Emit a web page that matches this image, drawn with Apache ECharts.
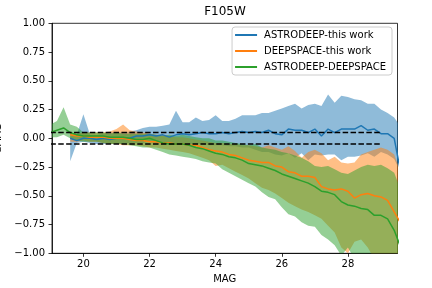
<!DOCTYPE html>
<html><head><meta charset="utf-8">
<script src="https://cdn.jsdelivr.net/npm/echarts@6/dist/echarts.min.js"></script>
<style>html,body{margin:0;padding:0;background:#fff}#c{width:432px;height:288px}</style>
</head><body><div id="c"></div>
<script>
// x grid (MAG bins)
const mags = [19.0, 19.2, 19.4, 19.6, 19.8, 20.0, 20.2, 20.4, 20.6, 20.8, 21.0, 21.2, 21.4, 21.6, 21.8, 22.0, 22.2, 22.4, 22.6, 22.8, 23.0, 23.2, 23.4, 23.6, 23.8, 24.0, 24.2, 24.4, 24.6, 24.8, 25.0, 25.2, 25.4, 25.6, 25.8, 26.0, 26.2, 26.4, 26.6, 26.8, 27.0, 27.2, 27.4, 27.6, 27.8, 28.0, 28.2, 28.4, 28.6, 28.8, 29.0, 29.2, 29.4, 29.6];

// ASTRODEEP-this work (starts at 19.6)
const blueMid = [null, null, null, 0.00, -0.02, 0.00, 0.00, -0.01, 0.00, -0.01, 0.00, 0.00, 0.00, 0.02, 0.02, 0.03, 0.02, 0.03, 0.01, 0.03, 0.04, 0.03, 0.04, 0.05, 0.04, 0.04, 0.05, 0.04, 0.05, 0.06, 0.05, 0.06, 0.05, 0.07, 0.04, 0.03, 0.08, 0.07, 0.07, 0.05, 0.08, 0.02, 0.08, 0.05, 0.08, 0.08, 0.08, 0.11, 0.07, 0.08, 0.04, 0.04, 0.00, -0.30];
const blueHi = [null, null, null, 0.02, 0.03, 0.21, 0.03, 0.03, 0.04, 0.05, 0.05, 0.05, 0.06, 0.07, 0.09, 0.10, 0.10, 0.11, 0.12, 0.24, 0.14, 0.14, 0.18, 0.15, 0.16, 0.20, 0.15, 0.15, 0.17, 0.20, 0.20, 0.20, 0.22, 0.22, 0.24, 0.26, 0.28, 0.30, 0.26, 0.29, 0.30, 0.28, 0.38, 0.31, 0.37, 0.36, 0.34, 0.33, 0.30, 0.30, 0.25, 0.22, 0.18, 0.10];
const blueLo = [null, null, null, -0.20, -0.04, -0.03, -0.04, -0.05, -0.05, -0.05, -0.05, -0.05, -0.04, -0.04, -0.04, -0.03, -0.04, -0.04, -0.05, -0.04, -0.04, -0.05, -0.05, -0.05, -0.06, -0.06, -0.06, -0.07, -0.07, -0.08, -0.08, -0.10, -0.12, -0.12, -0.14, -0.15, -0.13, -0.17, -0.13, -0.19, -0.14, -0.15, -0.14, -0.14, -0.19, -0.16, -0.16, -0.15, -0.13, -0.16, -0.12, -0.14, -0.18, -0.30];

// DEEPSPACE-this work (starts at 19.6)
const orangeMid = [null, null, null, 0.03, 0.02, 0.02, 0.01, 0.01, 0.01, 0.00, 0.00, 0.00, -0.01, -0.02, -0.02, -0.03, -0.03, -0.04, -0.04, -0.05, -0.05, -0.06, -0.06, -0.08, -0.10, -0.11, -0.12, -0.14, -0.15, -0.17, -0.19, -0.20, -0.21, -0.21, -0.24, -0.25, -0.29, -0.30, -0.33, -0.33, -0.34, -0.42, -0.44, -0.45, -0.44, -0.46, -0.52, -0.49, -0.48, -0.50, -0.51, -0.54, -0.64, -0.74];
const orangeHi = [null, null, null, 0.05, 0.04, 0.05, 0.05, 0.05, 0.05, 0.06, 0.08, 0.12, 0.07, 0.06, 0.05, 0.04, 0.03, 0.03, 0.02, 0.01, 0.01, 0.00, -0.01, -0.02, -0.03, -0.04, -0.04, -0.05, -0.05, -0.06, -0.06, -0.07, -0.08, -0.06, -0.08, -0.10, -0.07, -0.11, -0.17, -0.12, -0.10, -0.13, -0.19, -0.16, -0.21, -0.22, -0.21, -0.14, -0.12, -0.10, -0.08, -0.10, -0.14, -0.30];
const orangeLo = [null, null, null, -0.03, -0.03, -0.02, -0.03, -0.03, -0.04, -0.05, -0.05, -0.06, -0.06, -0.06, -0.07, -0.08, -0.08, -0.09, -0.10, -0.11, -0.12, -0.13, -0.15, -0.17, -0.19, -0.24, -0.23, -0.26, -0.29, -0.32, -0.35, -0.39, -0.43, -0.45, -0.48, -0.52, -0.56, -0.59, -0.62, -0.64, -0.67, -0.70, -0.76, -0.82, -0.95, -1.00, -0.90, -0.88, -0.95, -1.05, -1.08, -1.10, -1.15, -1.20];

// ASTRODEEP-DEEPSPACE
const greenMid = [0.05, 0.07, 0.09, 0.05, 0.03, 0.02, 0.02, 0.02, 0.02, 0.01, 0.01, 0.01, 0.00, -0.01, -0.01, 0.00, -0.02, -0.04, -0.05, -0.05, -0.05, -0.06, -0.08, -0.09, -0.11, -0.13, -0.14, -0.16, -0.17, -0.19, -0.22, -0.23, -0.24, -0.26, -0.28, -0.31, -0.33, -0.35, -0.37, -0.39, -0.42, -0.46, -0.47, -0.49, -0.55, -0.58, -0.59, -0.61, -0.62, -0.67, -0.67, -0.70, -0.80, -0.95];
const greenHi = [0.12, 0.15, 0.27, 0.12, 0.10, 0.05, 0.05, 0.05, 0.05, 0.04, 0.05, 0.04, 0.04, 0.04, 0.04, 0.04, 0.03, 0.02, 0.03, 0.02, 0.03, 0.02, 0.01, 0.00, 0.00, -0.02, -0.02, -0.03, -0.04, -0.05, -0.06, -0.05, -0.08, -0.09, -0.10, -0.12, -0.13, -0.15, -0.17, -0.20, -0.24, -0.25, -0.24, -0.27, -0.30, -0.31, -0.28, -0.25, -0.23, -0.24, -0.23, -0.26, -0.30, -0.45];
const greenLo = [0.01, 0.01, 0.03, 0.00, -0.02, -0.03, -0.03, -0.03, -0.04, -0.05, -0.05, -0.05, -0.06, -0.07, -0.08, -0.08, -0.10, -0.12, -0.14, -0.15, -0.16, -0.17, -0.18, -0.20, -0.21, -0.22, -0.27, -0.30, -0.33, -0.36, -0.39, -0.42, -0.47, -0.51, -0.53, -0.60, -0.66, -0.68, -0.73, -0.76, -0.77, -0.84, -0.88, -0.93, -1.02, -0.95, -1.05, -1.10, -1.15, -1.20, -1.25, -1.30, -1.35, -1.40];

// reference dashed lines
const dashX = [19.0, 29.0];
const dashUpper = [0.05, 0.05];
const dashLower = [-0.05, -0.05];

const xTickValues = [20, 22, 24, 26, 28];
const seriesNames = ['ASTRODEEP-this work', 'DEEPSPACE-this work', 'ASTRODEEP-DEEPSPACE'];
const titleText = 'F105W';

const FONT = 'DejaVu Sans';
const C_BLUE = '#1f77b4', C_ORANGE = '#ff7f0e', C_GREEN = '#2ca02c';

function pairs(xs, ys) {
  const out = [];
  xs.forEach((x, i) => { if (ys[i] != null) out.push([x, ys[i]]); });
  return out;
}
function bandRows(xs, lo, hi) {
  const out = [];
  xs.forEach((x, i) => { if (lo[i] != null && hi[i] != null) out.push([x, lo[i], hi[i]]); });
  return out;
}
function bandSeries(name, rows, color) {
  return {
    type: 'custom', name: name, clip: true, silent: true,
    data: rows, encode: { x: 0, y: [1, 2] },
    renderItem: function (params, api) {
      if (params.dataIndex !== 0) return null;
      const top = rows.map(r => api.coord([r[0], r[2]]));
      const bot = rows.map(r => api.coord([r[0], r[1]])).reverse();
      return { type: 'polygon', shape: { points: top.concat(bot) }, style: { fill: color } };
    }
  };
}
function lineSeries(name, data, color) {
  return {
    type: 'line', name: name, data: data, showSymbol: false, symbol: 'none',
    lineStyle: { color: color, width: 1.5 }, itemStyle: { color: color }, silent: true
  };
}
function dashSeries(ys) {
  return {
    type: 'line', name: 'dash', data: pairs(dashX, ys), showSymbol: false, symbol: 'none', silent: true,
    lineStyle: { color: '#000', width: 1.5, type: [5.5, 2.4] }
  };
}

const chart = echarts.init(document.getElementById('c'), null, { renderer: 'canvas' });
chart.setOption({
  animation: false,
  backgroundColor: '#fff',
  textStyle: { fontFamily: FONT },
  title: {
    text: titleText, left: 225, top: 6, padding: 0, textAlign: 'center',
    textStyle: { fontFamily: FONT, fontSize: 12, fontWeight: 'normal', color: '#000' }
  },
  legend: {
    data: seriesNames, orient: 'vertical', right: 40, top: 27,
    icon: 'rect', itemWidth: 22, itemHeight: 2, itemGap: 6,
    padding: [3, 6, 3, 3],
    backgroundColor: 'rgba(255,255,255,0.8)', borderColor: '#cccccc', borderWidth: 1, borderRadius: 3,
    textStyle: { fontFamily: FONT, fontSize: 10, color: '#000', padding: [0, 0, 0, 2] }
  },
  grid: { left: 52, right: 34.5, top: 23.3, bottom: 34.7, containLabel: false, outerBoundsMode: 'none',
    show: true, borderColor: '#000', borderWidth: 0.8, backgroundColor: 'transparent' },
  xAxis: {
    type: 'value', min: 19.05, max: 29.5,
    name: 'MAG', nameLocation: 'middle', nameGap: 19,
    nameTextStyle: { fontFamily: FONT, fontSize: 10, color: '#000' },
    axisLine: { show: true, onZero: false, lineStyle: { color: '#000', width: 0.8 } },
    axisTick: { show: true, length: 3.5, lineStyle: { color: '#000', width: 0.8 }, customValues: xTickValues },
    axisLabel: { fontFamily: FONT, fontSize: 10, color: '#000', margin: 6, customValues: xTickValues },
    splitLine: { show: false }
  },
  yAxis: {
    type: 'value', min: -1, max: 1, interval: 0.25,
    name: 'dMAG', nameLocation: 'middle', nameGap: 46, nameRotate: 90,
    nameTextStyle: { fontFamily: FONT, fontSize: 10, color: '#000' },
    axisLine: { show: true, onZero: false, lineStyle: { color: '#000', width: 0.8 } },
    axisTick: { show: true, length: 3.5, lineStyle: { color: '#000', width: 0.8 } },
    axisLabel: { fontFamily: FONT, fontSize: 10, color: '#000', margin: 7,
      formatter: v => v.toFixed(2).replace('-', '\u2212') },
    splitLine: { show: false }
  },
  series: [
    bandSeries('blueBand', bandRows(mags, blueLo, blueHi), 'rgba(31,119,180,0.5)'),
    bandSeries('orangeBand', bandRows(mags, orangeLo, orangeHi), 'rgba(255,127,14,0.5)'),
    bandSeries('greenBand', bandRows(mags, greenLo, greenHi), 'rgba(44,160,44,0.5)'),
    lineSeries(seriesNames[0], pairs(mags, blueMid), C_BLUE),
    lineSeries(seriesNames[1], pairs(mags, orangeMid), C_ORANGE),
    lineSeries(seriesNames[2], pairs(mags, greenMid), C_GREEN),
    dashSeries(dashUpper),
    dashSeries(dashLower)
  ]
});
</script>
</body></html>
